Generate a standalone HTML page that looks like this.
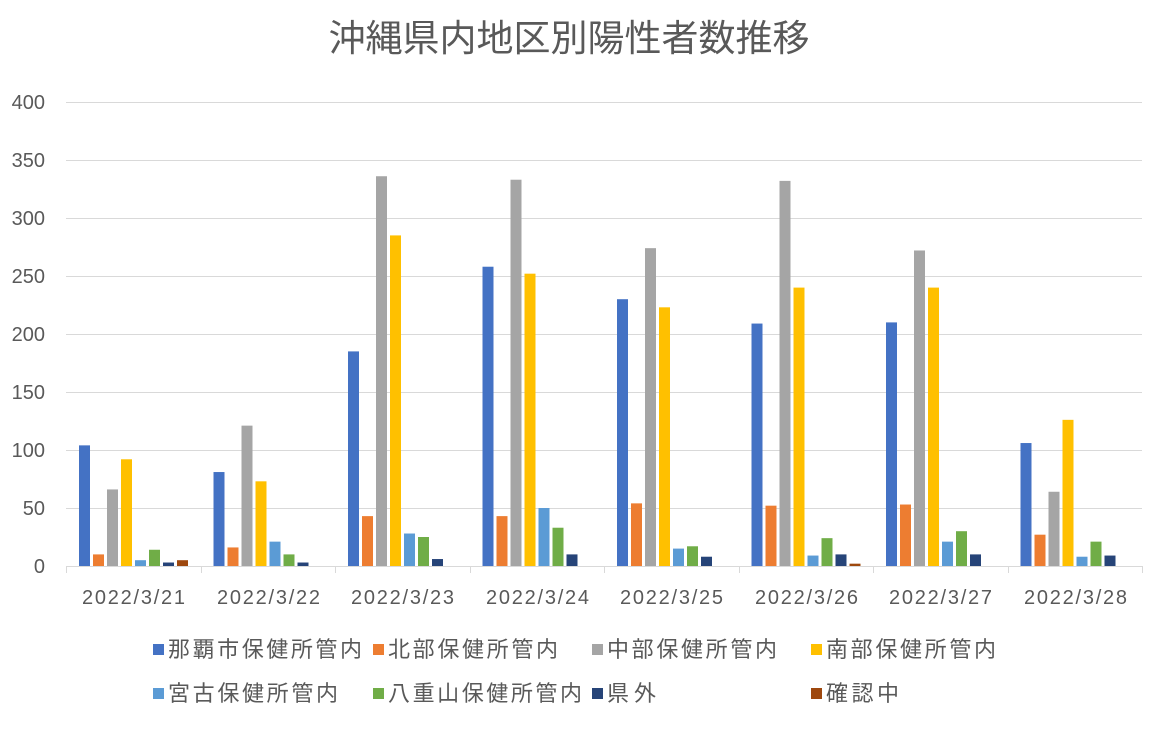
<!DOCTYPE html>
<html><head><meta charset="utf-8"><style>
html,body{margin:0;padding:0;background:#fff;}
text{font-family:"Liberation Sans","Noto Sans CJK JP",sans-serif;}
</style></head><body>
<svg width="1156" height="725" xmlns="http://www.w3.org/2000/svg">
<rect width="1156" height="725" fill="#fff"/>
<text x="569" y="51" font-size="37" fill="#595959" text-anchor="middle">沖縄県内地区別陽性者数推移</text>
<g stroke="#d9d9d9" stroke-width="1">
<line x1="66" x2="1142" y1="102.5" y2="102.5"/>
<line x1="66" x2="1142" y1="160.5" y2="160.5"/>
<line x1="66" x2="1142" y1="218.5" y2="218.5"/>
<line x1="66" x2="1142" y1="276.5" y2="276.5"/>
<line x1="66" x2="1142" y1="334.5" y2="334.5"/>
<line x1="66" x2="1142" y1="392.5" y2="392.5"/>
<line x1="66" x2="1142" y1="450.5" y2="450.5"/>
<line x1="66" x2="1142" y1="508.5" y2="508.5"/>
<line x1="66" x2="1142" y1="566.5" y2="566.5"/>
<line x1="66.5" x2="66.5" y1="566" y2="573"/>
<line x1="201.5" x2="201.5" y1="566" y2="573"/>
<line x1="335.5" x2="335.5" y1="566" y2="573"/>
<line x1="470.5" x2="470.5" y1="566" y2="573"/>
<line x1="604.5" x2="604.5" y1="566" y2="573"/>
<line x1="739.5" x2="739.5" y1="566" y2="573"/>
<line x1="873.5" x2="873.5" y1="566" y2="573"/>
<line x1="1008.5" x2="1008.5" y1="566" y2="573"/>
<line x1="1142.5" x2="1142.5" y1="566" y2="573"/>
</g>
<g font-size="20" fill="#595959" text-anchor="end">
<text x="45" y="109">400</text><text x="45" y="167">350</text><text x="45" y="225">300</text>
<text x="45" y="283">250</text><text x="45" y="341">200</text><text x="45" y="399">150</text>
<text x="45" y="457">100</text><text x="45" y="515">50</text><text x="45" y="573">0</text>
</g>
<g>
<rect x="79" y="445.36" width="11" height="120.64" fill="#4472C4"/>
<rect x="93" y="554.4" width="11" height="11.6" fill="#ED7D31"/>
<rect x="107" y="489.44" width="11" height="76.56" fill="#A5A5A5"/>
<rect x="121" y="459.28" width="11" height="106.72" fill="#FFC000"/>
<rect x="135" y="560.2" width="11" height="5.8" fill="#5B9BD5"/>
<rect x="149" y="549.76" width="11" height="16.24" fill="#70AD47"/>
<rect x="163" y="562.52" width="11" height="3.48" fill="#264478"/>
<rect x="177" y="560.2" width="11" height="5.8" fill="#9E480E"/>

<rect x="213.5" y="472.04" width="11" height="93.96" fill="#4472C4"/>
<rect x="227.5" y="547.44" width="11" height="18.56" fill="#ED7D31"/>
<rect x="241.5" y="425.64" width="11" height="140.36" fill="#A5A5A5"/>
<rect x="255.5" y="481.32" width="11" height="84.68" fill="#FFC000"/>
<rect x="269.5" y="541.64" width="11" height="24.36" fill="#5B9BD5"/>
<rect x="283.5" y="554.4" width="11" height="11.6" fill="#70AD47"/>
<rect x="297.5" y="562.52" width="11" height="3.48" fill="#264478"/>

<rect x="348" y="351.4" width="11" height="214.6" fill="#4472C4"/>
<rect x="362" y="516.12" width="11" height="49.88" fill="#ED7D31"/>
<rect x="376" y="176.24" width="11" height="389.76" fill="#A5A5A5"/>
<rect x="390" y="235.4" width="11" height="330.6" fill="#FFC000"/>
<rect x="404" y="533.52" width="11" height="32.48" fill="#5B9BD5"/>
<rect x="418" y="537" width="11" height="29" fill="#70AD47"/>
<rect x="432" y="559.04" width="11" height="6.96" fill="#264478"/>

<rect x="482.5" y="266.72" width="11" height="299.28" fill="#4472C4"/>
<rect x="496.5" y="516.12" width="11" height="49.88" fill="#ED7D31"/>
<rect x="510.5" y="179.72" width="11" height="386.28" fill="#A5A5A5"/>
<rect x="524.5" y="273.68" width="11" height="292.32" fill="#FFC000"/>
<rect x="538.5" y="508" width="11" height="58" fill="#5B9BD5"/>
<rect x="552.5" y="527.72" width="11" height="38.28" fill="#70AD47"/>
<rect x="566.5" y="554.4" width="11" height="11.6" fill="#264478"/>

<rect x="617" y="299.2" width="11" height="266.8" fill="#4472C4"/>
<rect x="631" y="503.36" width="11" height="62.64" fill="#ED7D31"/>
<rect x="645" y="248.16" width="11" height="317.84" fill="#A5A5A5"/>
<rect x="659" y="307.32" width="11" height="258.68" fill="#FFC000"/>
<rect x="673" y="548.6" width="11" height="17.4" fill="#5B9BD5"/>
<rect x="687" y="546.28" width="11" height="19.72" fill="#70AD47"/>
<rect x="701" y="556.72" width="11" height="9.28" fill="#264478"/>

<rect x="751.5" y="323.56" width="11" height="242.44" fill="#4472C4"/>
<rect x="765.5" y="505.68" width="11" height="60.32" fill="#ED7D31"/>
<rect x="779.5" y="180.88" width="11" height="385.12" fill="#A5A5A5"/>
<rect x="793.5" y="287.6" width="11" height="278.4" fill="#FFC000"/>
<rect x="807.5" y="555.56" width="11" height="10.44" fill="#5B9BD5"/>
<rect x="821.5" y="538.16" width="11" height="27.84" fill="#70AD47"/>
<rect x="835.5" y="554.4" width="11" height="11.6" fill="#264478"/>
<rect x="849.5" y="563.68" width="11" height="2.32" fill="#9E480E"/>

<rect x="886" y="322.4" width="11" height="243.6" fill="#4472C4"/>
<rect x="900" y="504.52" width="11" height="61.48" fill="#ED7D31"/>
<rect x="914" y="250.48" width="11" height="315.52" fill="#A5A5A5"/>
<rect x="928" y="287.6" width="11" height="278.4" fill="#FFC000"/>
<rect x="942" y="541.64" width="11" height="24.36" fill="#5B9BD5"/>
<rect x="956" y="531.2" width="11" height="34.8" fill="#70AD47"/>
<rect x="970" y="554.4" width="11" height="11.6" fill="#264478"/>

<rect x="1020.5" y="443.04" width="11" height="122.96" fill="#4472C4"/>
<rect x="1034.5" y="534.68" width="11" height="31.32" fill="#ED7D31"/>
<rect x="1048.5" y="491.76" width="11" height="74.24" fill="#A5A5A5"/>
<rect x="1062.5" y="419.84" width="11" height="146.16" fill="#FFC000"/>
<rect x="1076.5" y="556.72" width="11" height="9.28" fill="#5B9BD5"/>
<rect x="1090.5" y="541.64" width="11" height="24.36" fill="#70AD47"/>
<rect x="1104.5" y="555.56" width="11" height="10.44" fill="#264478"/>
</g>
<g font-size="20" fill="#595959">
<text x="82" y="604" textLength="103">2022/3/21</text><text x="217" y="604" textLength="103">2022/3/22</text>
<text x="351" y="604" textLength="103">2022/3/23</text><text x="486" y="604" textLength="103">2022/3/24</text>
<text x="620" y="604" textLength="103">2022/3/25</text><text x="755" y="604" textLength="103">2022/3/26</text>
<text x="889" y="604" textLength="103">2022/3/27</text><text x="1024" y="604" textLength="103">2022/3/28</text>
</g>
<g font-size="22" fill="#595959">
<rect x="153" y="644" width="11" height="11" fill="#4472C4"/><text x="168" y="657" textLength="194">那覇市保健所管内</text>
<rect x="373" y="644" width="11" height="11" fill="#ED7D31"/><text x="388" y="657" textLength="170">北部保健所管内</text>
<rect x="592" y="644" width="11" height="11" fill="#A5A5A5"/><text x="607" y="657" textLength="170">中部保健所管内</text>
<rect x="811" y="644" width="11" height="11" fill="#FFC000"/><text x="826" y="657" textLength="170">南部保健所管内</text>
<rect x="153" y="688" width="11" height="11" fill="#5B9BD5"/><text x="168" y="701" textLength="170">宮古保健所管内</text>
<rect x="373" y="688" width="11" height="11" fill="#70AD47"/><text x="388" y="701" textLength="194">八重山保健所管内</text>
<rect x="592" y="688" width="11" height="11" fill="#264478"/><text x="607" y="701" textLength="49">県外</text>
<rect x="811" y="688" width="11" height="11" fill="#9E480E"/><text x="826" y="701" textLength="73">確認中</text>
</g>
</svg>
</body></html>
